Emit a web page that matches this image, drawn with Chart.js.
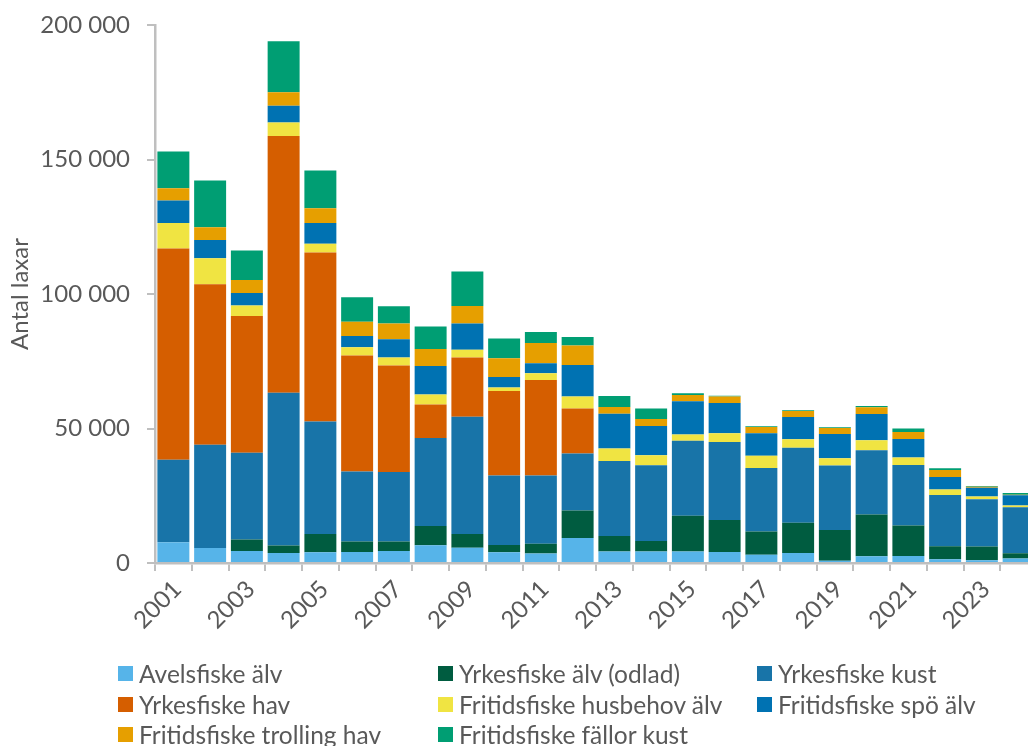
<!DOCTYPE html>
<html lang="sv">
<head>
<meta charset="utf-8">
<title>Antal laxar per år och fiske</title>
<script src="https://cdn.jsdelivr.net/npm/chart.js@4/dist/chart.umd.min.js"></script>
<style>
  html, body { margin: 0; padding: 0; background: #ffffff; overflow: hidden; }
  body { width: 1028px; height: 746px; position: relative; }
  #wrap { position: absolute; left: 0; top: 0; width: 1045px; height: 650px; }
  #legend { position: absolute; left: 0; top: 0; width: 1028px; height: 746px; pointer-events: none;
            font-family: Lato, "Open Sans", sans-serif; font-size: 24.5px; color: #595959; }
  .item { position: absolute; display: flex; align-items: center; white-space: nowrap; }
  .box { width: 15px; height: 15px; margin-right: 6px; flex: none; }
</style>
</head>
<body>
<div id="wrap"><canvas id="chart" width="1045" height="650"></canvas></div>
<div id="legend"></div>
<script>
// Years on the category axis
const years = ['2001','2002','2003','2004','2005','2006','2007','2008','2009','2010','2011','2012',
               '2013','2014','2015','2016','2017','2018','2019','2020','2021','2022','2023','2024'];

// Catch per fishery (number of salmon)
const avelsfiskeAlv = [7700,5600,4500,3700,4000,4100,4500,6600,5700,4000,3500,9300,
                       4300,4300,4300,4100,3100,3700,800,2500,2600,1400,1000,1700];
const yrkesfiskeAlvOdlad = [0,0,4200,2800,6800,3900,3500,7200,5100,2700,3700,10200,
                            5700,3900,13300,11900,8600,11300,11500,15500,11300,4800,5100,1900];
const yrkesfiskeKust = [30700,38400,32300,56800,41800,26000,25800,32700,43600,25800,25300,21200,
                        27900,28100,27800,29000,23600,27800,23900,23900,22500,19100,17600,17100];
const yrkesfiskeHav = [78500,59600,50800,95400,62800,43100,39600,12400,22000,31400,35500,16700,
                       0,0,0,0,0,0,0,0,0,0,0,0];
const fritidsHusbehovAlv = [9500,9700,3900,5100,3300,3100,3000,3700,2900,1300,2500,4500,
                            4700,3800,2400,3200,4600,3200,2700,3700,2800,2000,1000,700];
const fritidsSpoAlv = [8400,6800,4700,6200,7700,4200,6800,10600,9700,3900,3800,11700,
                       12900,10800,12300,11300,8300,8300,9100,9800,6900,4700,3300,3800];
const fritidsTrollingHav = [4500,4700,4800,5000,5500,5300,5800,6400,6500,7000,7500,7300,
                            2500,2600,2400,2400,2400,2200,2200,2500,2600,2600,300,200];
const fritidsFallorKust = [13700,17400,11000,19000,14000,9100,6400,8300,12900,7400,4100,3100,
                           4100,3900,600,300,200,300,300,500,1300,600,300,600];

// Series names, in stacking order (bottom to top)
const seriesNames = ['Avelsfiske älv','Yrkesfiske älv (odlad)','Yrkesfiske kust','Yrkesfiske hav',
                     'Fritidsfiske husbehov älv','Fritidsfiske spö älv','Fritidsfiske trolling hav',
                     'Fritidsfiske fällor kust'];
const seriesValues = [avelsfiskeAlv, yrkesfiskeAlvOdlad, yrkesfiskeKust, yrkesfiskeHav,
                      fritidsHusbehovAlv, fritidsSpoAlv, fritidsTrollingHav, fritidsFallorKust];
const seriesColors = ['#56B4E9','#005C40','#1874A8','#D55E00','#F0E442','#0072B2','#E69F00','#009E73'];

// Y axis ticks
const yMax = 200000;
const yStep = 50000;
const yAxisTitle = 'Antal laxar';

const FONT = 'Lato, "Open Sans", sans-serif';
const TEXT = '#595959';
const AXIS = '#BFBFBF';

const fmt = v => String(v).replace(/\B(?=(\d{3})+(?!\d))/g, '\u00a0');

const datasets = seriesNames.map((name, i) => ({
  label: name,
  data: seriesValues[i],
  backgroundColor: seriesColors[i],
  borderWidth: 0,
  barPercentage: 0.87,
  categoryPercentage: 1.0,
  stack: 'catch'
}));

const chart = new Chart(document.getElementById('chart'), {
  type: 'bar',
  data: { labels: years, datasets },
  options: {
    responsive: false,
    animation: false,
    devicePixelRatio: 1,
    layout: { padding: { top: 25, left: 0, right: 8, bottom: 0 } },
    plugins: { legend: { display: false }, tooltip: { enabled: false } },
    scales: {
      x: {
        stacked: true,
        border: { display: true, color: AXIS, width: 2.5 },
        grid: { display: true, offset: true, drawOnChartArea: false, drawTicks: true,
                tickLength: 8, color: AXIS, lineWidth: 2 },
        ticks: {
          autoSkip: false, minRotation: 45, maxRotation: 45, padding: 4, labelOffset: 4,
          color: TEXT, font: { family: FONT, size: 24 },
          callback: (v, i) => (i % 2 === 0 ? years[i] : '')
        },
        afterFit: s => { s.height = 87; }
      },
      y: {
        stacked: true,
        min: 0, max: yMax,
        border: { display: true, color: AXIS, width: 2.5 },
        grid: { display: true, drawOnChartArea: false, drawTicks: true, tickLength: 8,
                color: AXIS, lineWidth: 2 },
        ticks: { stepSize: yStep, padding: 17, color: TEXT, font: { family: FONT, size: 24 },
                 callback: v => fmt(v) },
        title: { display: true, text: yAxisTitle, color: TEXT, font: { family: FONT, size: 24 },
                 padding: { top: 6, bottom: 0 } },
        afterFit: s => { s.width = 155; s.paddingTop = 0; s.paddingBottom = 0; }
      }
    }
  }
});

// Legend in three columns below the chart
const legend = document.getElementById('legend');
const colLeft = [118, 438, 757];
const rowMid = [673, 704, 734];
chart.data.datasets.forEach((ds, i) => {
  const item = document.createElement('div');
  item.className = 'item';
  item.style.left = colLeft[i % 3] + 'px';
  item.style.top = (rowMid[Math.floor(i / 3)] - 15) + 'px';
  item.style.height = '30px';
  const box = document.createElement('span');
  box.className = 'box';
  box.style.background = ds.backgroundColor;
  const txt = document.createElement('span');
  txt.textContent = ds.label;
  item.appendChild(box);
  item.appendChild(txt);
  legend.appendChild(item);
});
</script>
</body>
</html>
